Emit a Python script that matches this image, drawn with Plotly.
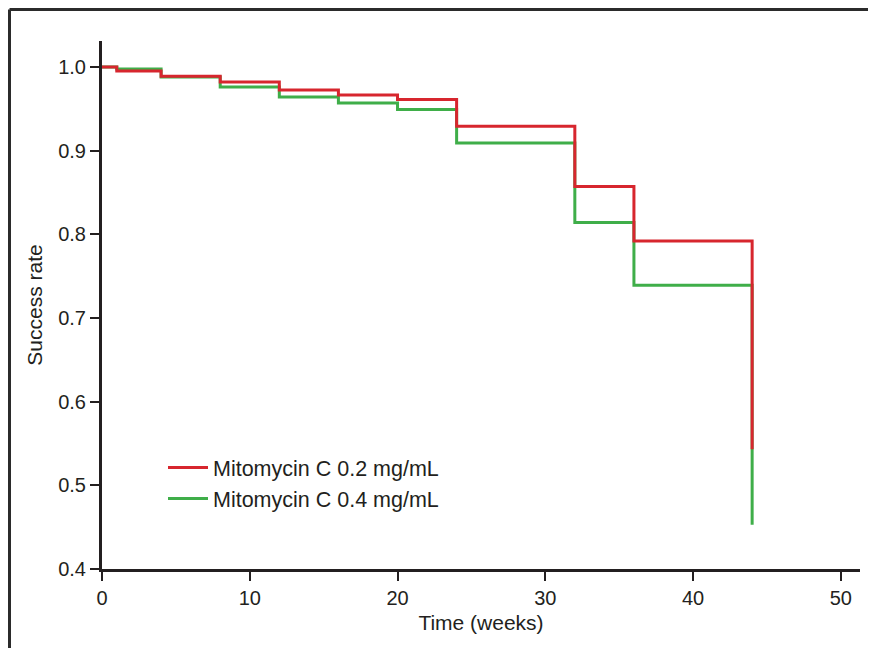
import plotly.graph_objects as go

# Kaplan-Meier style step data
weeks_02 = [0, 1, 4, 8, 12, 16, 20, 24, 32, 36, 44]
rate_02 = [1.0, 0.995, 0.989, 0.982, 0.9725, 0.9665, 0.961, 0.929, 0.857, 0.792, 0.543]

weeks_04 = [0, 1, 4, 8, 12, 16, 20, 24, 32, 36, 44]
rate_04 = [1.0, 0.9975, 0.988, 0.976, 0.964, 0.957, 0.949, 0.909, 0.814, 0.739, 0.453]

series_names = ["Mitomycin C 0.2 mg/mL", "Mitomycin C 0.4 mg/mL"]
x_ticks = [0, 10, 20, 30, 40, 50]
y_ticks = [0.4, 0.5, 0.6, 0.7, 0.8, 0.9, 1.0]

RED = "#d7262e"
GREEN = "#3fae49"
INK = "#231f20"
FONT = "Liberation Sans, Arial, sans-serif"

fig = go.Figure()
fig.add_trace(go.Scatter(x=weeks_04, y=rate_04, mode="lines", line_shape="hv",
                         name=series_names[1], line=dict(color=GREEN, width=3)))
fig.add_trace(go.Scatter(x=weeks_02, y=rate_02, mode="lines", line_shape="hv",
                         name=series_names[0], line=dict(color=RED, width=3)))

# the page places the figure 8px from the top-left corner (body margin)
OFF = 8
W, H = 876 - 2 * OFF, 656 - 2 * OFF
L, T = 102 - OFF, 41 - OFF
R = W - (860 - OFF)
B = H - (569 - OFF)
pw, ph = W - L - R, H - T - B

def px_x(p):  # p in page pixels
    return (p - OFF - L) / pw

def px_y(p):
    return (H - B - (p - OFF)) / ph

fig.update_layout(
    width=W, height=H,
    margin=dict(l=L, r=R, t=T, b=B, pad=0),
    paper_bgcolor="white", plot_bgcolor="white",
    font=dict(family=FONT, size=20, color=INK),
    showlegend=True,
    legend=dict(x=px_x(163), y=px_y(447), xanchor="left", yanchor="top",
                traceorder="reversed", bgcolor="rgba(0,0,0,0)",
                font=dict(size=21.5, color=INK), itemwidth=40,
                tracegroupgap=0),
    xaxis=dict(range=[0, 51.3], tickvals=x_ticks, showgrid=False, zeroline=False,
               showline=True, linecolor=INK, linewidth=3, ticks="outside",
               ticklen=9, tickwidth=1.5, tickcolor=INK,
               tickfont=dict(size=20, color=INK), automargin=False,
               title=dict(text="Time (weeks)", standoff=8,
                          font=dict(size=21, color=INK))),
    yaxis=dict(range=[0.4, 1.031], tickvals=y_ticks, tickformat=".1f",
               showgrid=False, zeroline=False,
               showline=True, linecolor=INK, linewidth=3, ticks="outside",
               ticklen=9, tickwidth=1.5, tickcolor=INK,
               tickfont=dict(size=20, color=INK), automargin=False,
               title=dict(text="Success rate", standoff=10,
                          font=dict(size=21, color=INK))),
    shapes=[
        dict(type="line", xref="paper", yref="paper",
             x0=px_x(9.5), y0=px_y(9.5), x1=px_x(868), y1=px_y(9.5),
             line=dict(color="#2b2b2b", width=3)),
        dict(type="line", xref="paper", yref="paper",
             x0=px_x(9.5), y0=px_y(9.5), x1=px_x(9.5), y1=px_y(656),
             line=dict(color="#2b2b2b", width=3)),
    ],
)

fig.write_html("out.html")
